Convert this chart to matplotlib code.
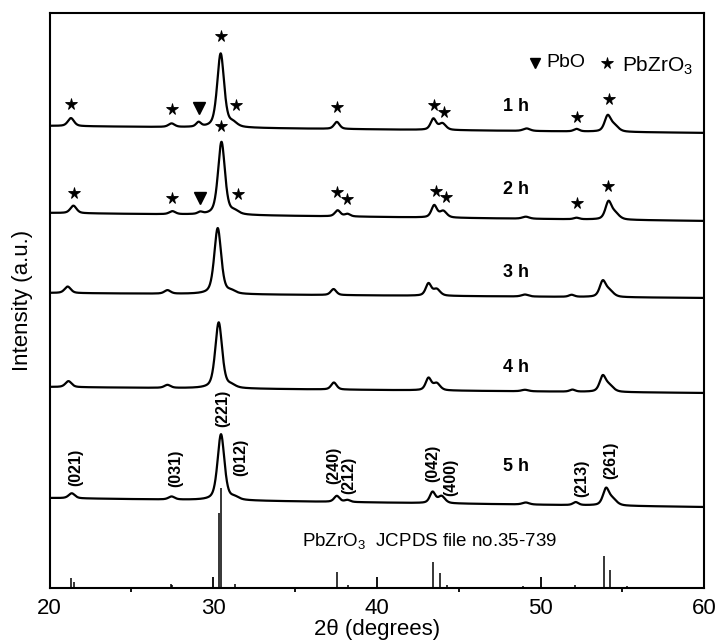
import numpy as np
import matplotlib
matplotlib.use("Agg")
import matplotlib.pyplot as plt

plt.rcParams['font.family'] = ['Liberation Sans', 'DejaVu Sans']
plt.rcParams['mathtext.fontset'] = 'custom'
plt.rcParams['mathtext.rm'] = 'Liberation Sans'
plt.rcParams['mathtext.it'] = 'Liberation Sans:italic'

# peak lists: centre (2theta), height (a.u.), fwhm (deg)
pos_1h = [21.3, 27.45, 29.1, 30.45, 31.2, 37.55, 43.45, 44.0, 49.15, 52.2, 54.1, 54.5]
amp_1h = [8, 3.5, 4.5, 74, 4, 7, 11, 6.5, 2.5, 2.5, 15, 6]
wid_1h = [0.45, 0.45, 0.35, 0.5, 0.6, 0.4, 0.4, 0.5, 0.5, 0.4, 0.45, 0.6]
base_1h = [462, 455]

pos_2h = [21.45, 27.5, 29.2, 30.5, 31.3, 37.6, 38.2, 43.5, 44.05, 49.1, 52.2, 54.15, 54.55]
amp_2h = [7.5, 3, 2, 73, 3, 6, 2.5, 12, 6.5, 2, 1.5, 17, 6]
wid_2h = [0.45, 0.45, 0.35, 0.5, 0.6, 0.4, 0.4, 0.4, 0.5, 0.5, 0.4, 0.45, 0.6]
base_2h = [375, 367]

pos_3h = [21.1, 27.2, 30.27, 31.1, 37.35, 43.15, 43.65, 49.05, 51.9, 53.8, 54.2]
amp_3h = [6.5, 3.5, 66, 2.5, 6, 12, 6.5, 2, 2, 15, 6]
wid_3h = [0.45, 0.45, 0.5, 0.6, 0.4, 0.4, 0.5, 0.5, 0.4, 0.45, 0.6]
base_3h = [295, 290]

pos_4h = [21.15, 27.2, 30.33, 31.1, 37.37, 43.15, 43.65, 49.05, 51.95, 53.8, 54.2]
amp_4h = [6, 3, 66, 2.5, 7, 12, 7, 1.5, 2, 15, 6]
wid_4h = [0.45, 0.45, 0.5, 0.6, 0.4, 0.4, 0.5, 0.5, 0.4, 0.45, 0.6]
base_4h = [201, 195]

pos_5h = [21.35, 27.45, 30.47, 31.3, 37.55, 38.2, 43.4, 43.95, 49.1, 52.15, 54.0, 54.4]
amp_5h = [5, 3, 66, 2.5, 6, 2, 11, 7, 2, 3, 16, 6]
wid_5h = [0.45, 0.45, 0.5, 0.6, 0.4, 0.4, 0.4, 0.5, 0.5, 0.4, 0.45, 0.6]
base_5h = [90, 81]

trace_labels = ['1 h', '2 h', '3 h', '4 h', '5 h']
label_y = [481, 398, 315, 220, 121]

# JCPDS 35-739 reference sticks
stick_pos = [21.32, 21.48, 27.4, 27.5, 30.35, 30.47, 31.32, 37.55, 38.26,
             43.4, 43.86, 44.3, 48.9, 52.1, 53.9, 54.24, 55.3]
stick_h = [10, 6, 4, 3, 75, 100, 4, 16, 3, 26, 15, 3, 2, 3, 32, 18, 2]

# phase markers
star_x = [21.3, 27.5, 30.5, 31.4, 37.55, 43.5, 44.1, 52.2, 54.2,
          21.5, 27.5, 30.5, 31.5, 37.55, 38.2, 43.6, 44.2, 52.2, 54.15]
star_y = [484, 479, 552, 483, 481, 483, 476, 471, 489,
          395, 390, 462, 394, 396, 389, 397, 391, 385, 402]
tri_x = [29.1, 29.2]
tri_y = [480, 390]

hkl = ['(021)', '(031)', '(221)', '(012)', '(240)', '(212)', '(042)', '(400)', '(213)', '(261)']
hkl_x = [21.6, 27.7, 30.6, 31.7, 37.35, 38.3, 43.4, 44.5, 52.5, 54.3]
hkl_y = [121, 120, 180, 131, 123, 113, 125, 111, 110, 128]


def pseudo_voigt(x, c, h, w, eta=0.5):
    g = np.exp(-4 * np.log(2) * ((x - c) / w) ** 2)
    l = 1 / (1 + 4 * ((x - c) / w) ** 2)
    return h * (eta * l + (1 - eta) * g)


x = np.linspace(20, 60, 4000)

fig = plt.figure(figsize=(7.2, 6.43), dpi=100)
ax = fig.add_axes([0.069, 0.0855, 0.909, 0.8945])

traces = [(pos_1h, amp_1h, wid_1h, base_1h), (pos_2h, amp_2h, wid_2h, base_2h),
          (pos_3h, amp_3h, wid_3h, base_3h), (pos_4h, amp_4h, wid_4h, base_4h),
          (pos_5h, amp_5h, wid_5h, base_5h)]

for (p, a, w, b), lab, ly in zip(traces, trace_labels, label_y):
    y = b[0] + (b[1] - b[0]) * (x - 20) / 40
    for c, h, fw in zip(p, a, w):
        y = y + pseudo_voigt(x, c, h, fw)
    ax.plot(x, y, color='black', lw=1.6)
    ax.text(48.5, ly, lab, fontsize=13, fontweight='bold', ha='center', va='center')

ax.vlines(stick_pos, 0, stick_h, color='black', lw=1.1)

ax.plot(star_x, star_y, ls='none', marker='*', ms=8.5, mew=0.6, color='black')
ax.plot(tri_x, tri_y, ls='none', marker='v', ms=8.5, color='black')

for t, hx, hy in zip(hkl, hkl_x, hkl_y):
    ax.text(hx, hy, t, rotation=90, fontsize=11.5, fontweight='bold',
            ha='center', va='center')

# legend drawn by hand like the original
ax.plot([49.66], [525], marker='v', ms=7, color='black')
ax.text(50.35, 525, 'PbO', fontsize=14, va='center', ha='left')
ax.plot([54.05], [525], marker='*', ms=8.5, mew=0.6, color='black')
ax.text(55.0, 522, 'PbZrO$_3$', fontsize=15, va='center', ha='left')

ax.text(35.4, 47, 'PbZrO$_3$  JCPDS file no.35-739', fontsize=13.5,
        va='center', ha='left')

ax.set_xlim(20, 60)
ax.set_ylim(0, 575)
ax.set_yticks([])
ax.set_xticks([20, 30, 40, 50, 60])
ax.set_xticks([25, 35, 45, 55], minor=True)
ax.tick_params(axis='x', which='major', direction='in', length=8, width=1.3,
               labelsize=16, pad=7)
ax.tick_params(axis='x', which='minor', direction='out', length=3, width=1.3)
for s in ax.spines.values():
    s.set_linewidth(1.5)

ax.set_xlabel('2θ (degrees)', fontsize=16, labelpad=0)
ax.set_ylabel('Intensity (a.u.)', fontsize=16, labelpad=12)

fig.savefig('out.png', dpi=100)
